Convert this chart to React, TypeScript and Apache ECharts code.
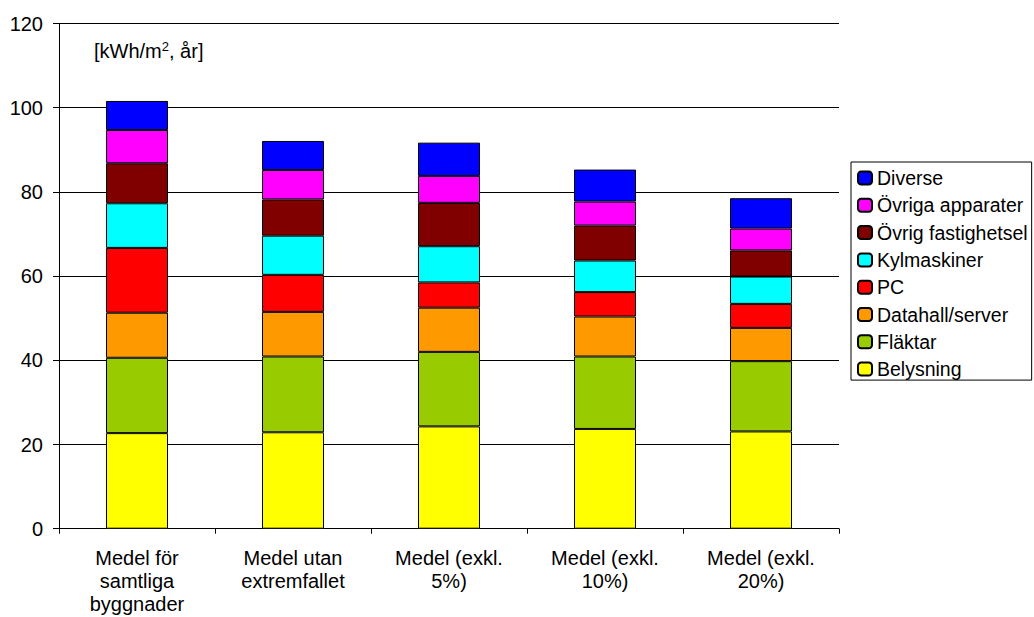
import React, { useEffect, useRef } from "react";
import * as echarts from "echarts";

const categories = [
  "Medel för\nsamtliga\nbyggnader",
  "Medel utan\nextremfallet",
  "Medel (exkl.\n5%)",
  "Medel (exkl.\n10%)",
  "Medel (exkl.\n20%)",
];

const belysning = [22.7, 22.9, 24.3, 23.7, 23.1];
const flaktar = [17.9, 18.0, 17.7, 17.2, 16.7];
const datahall = [10.7, 10.6, 10.5, 9.5, 7.9];
const pc = [15.4, 8.8, 6.0, 5.8, 5.7];
const kylmaskiner = [10.6, 9.3, 8.6, 7.5, 6.5];
const ovrigFastighetsel = [9.5, 8.6, 10.3, 8.3, 6.2];
const ovrigaApparater = [7.9, 7.0, 6.4, 5.7, 5.2];
const diverse = [6.9, 6.9, 7.9, 7.6, 7.2];

const seriesDefs = [
  { name: "Belysning", data: belysning, color: "#FFFF00" },
  { name: "Fläktar", data: flaktar, color: "#99CC00" },
  { name: "Datahall/server", data: datahall, color: "#FF9900" },
  { name: "PC", data: pc, color: "#FF0000" },
  { name: "Kylmaskiner", data: kylmaskiner, color: "#00FFFF" },
  { name: "Övrig fastighetsel", data: ovrigFastighetsel, color: "#800000" },
  { name: "Övriga apparater", data: ovrigaApparater, color: "#FF00FF" },
  { name: "Diverse", data: diverse, color: "#0000FF" },
];

const FONT = "'Liberation Sans', Arial, sans-serif";

export default function App() {
  const ref = useRef<HTMLDivElement>(null);
  useEffect(() => {
    document.body.style.margin = "0";
    const chart = echarts.init(ref.current!, undefined, { renderer: "svg" });
    chart.setOption({
      animation: false,
      backgroundColor: "#fff",
      textStyle: { fontFamily: FONT, color: "#000" },
      grid: { left: 59, right: 195, top: 23.5, bottom: 88.3, containLabel: false },
      legend: {
        orient: "vertical",
        left: 851,
        top: 162,
        data: seriesDefs.map((s) => s.name).reverse(),
        itemWidth: 14,
        itemHeight: 13,
        itemGap: 7.3,
        padding: [6, 4, 1, 6],
        borderColor: "#000",
        borderWidth: 1,
        backgroundColor: "#fff",
        textStyle: { fontSize: 19.5, fontFamily: FONT, color: "#000", lineHeight: 20 },
      },
      xAxis: {
        type: "category",
        data: categories,
        axisLine: { lineStyle: { color: "#000", width: 1 } },
        axisTick: { show: true, length: 5, lineStyle: { color: "#000" } },
        axisLabel: {
          interval: 0,
          fontSize: 20,
          lineHeight: 23,
          margin: 18,
          color: "#000",
          fontFamily: FONT,
        },
      },
      yAxis: {
        type: "value",
        min: 0,
        max: 120,
        interval: 20,
        axisLine: { show: true, lineStyle: { color: "#000", width: 1 } },
        axisTick: { show: true, length: 6, lineStyle: { color: "#000" } },
        axisLabel: { fontSize: 20, margin: 16, color: "#000", fontFamily: FONT },
        splitLine: { show: true, lineStyle: { color: "#000", width: 1 } },
      },
      graphic: [
        {
          type: "text",
          left: 94,
          top: 40,
          style: {
            text: "{a|[kWh/m}{b|2}{a|, år]}",
            rich: {
              a: { fontSize: 20, fontFamily: FONT, fill: "#000", lineHeight: 22 },
              b: { fontSize: 13, fontFamily: FONT, fill: "#000", verticalAlign: "top", lineHeight: 22 },
            },
          },
        },
      ],
      series: seriesDefs.map((s) => ({
        name: s.name,
        type: "bar",
        stack: "total",
        barWidth: 62,
        data: s.data,
        itemStyle: { color: s.color, borderColor: "#000", borderWidth: 1 },
        emphasis: { disabled: true },
      })),
    });
    return () => chart.dispose();
  }, []);
  return <div ref={ref} style={{ width: 1034, height: 617 }} />;
}
